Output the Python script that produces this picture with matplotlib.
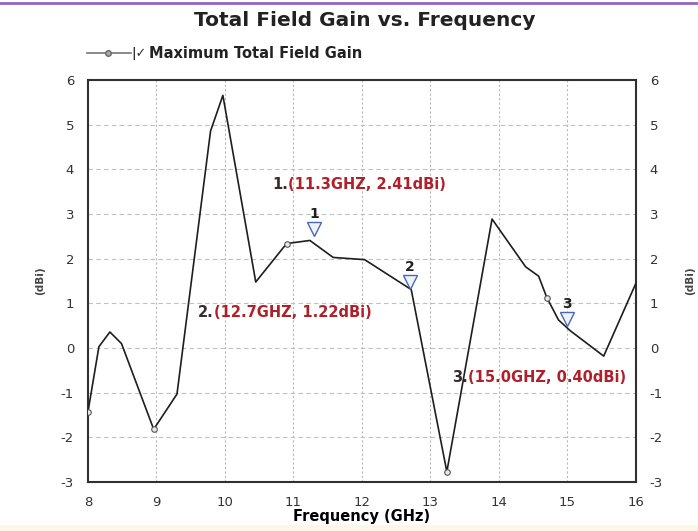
import numpy as np
import matplotlib.pyplot as plt
from matplotlib.lines import Line2D
from matplotlib.patches import Rectangle
from matplotlib.transforms import ScaledTranslation

plt.rcParams['axes.unicode_minus'] = False

# frequency sweep (GHz) and maximum total field gain (dBi)
freq = [8.0, 8.16, 8.32, 8.49, 8.96, 9.30, 9.79, 9.97, 10.45, 10.9, 11.24,
        11.58, 12.04, 12.72, 13.24, 13.9, 14.39, 14.58, 14.70, 14.87, 15.04,
        15.53, 16.0]
gain = [-1.43, 0.03, 0.36, 0.10, -1.82, -1.03, 4.86, 5.66, 1.48, 2.34, 2.41,
        2.03, 1.98, 1.31, -2.77, 2.89, 1.82, 1.61, 1.13, 0.63, 0.39,
        -0.18, 1.45]
marked = [0, 4, 9, 14, 18]   # points drawn with a small circle

# markers
mk_freq = [11.3, 12.7, 15.0]
mk_gain = [2.41, 1.22, 0.40]
mk_text_pos = [(10.92, 3.67), (9.84, 0.80), (13.55, -0.67)]

xticks = list(range(8, 17))
yticks = list(range(-3, 7))

fig = plt.figure(figsize=(6.98, 5.31), dpi=100)
fig.patch.set_facecolor('white')
ax = fig.add_axes([0.126, 0.0923, 0.785, 0.7567])

ax.plot(freq, gain, color='#1e1e1e', lw=1.2, marker='o', markevery=marked,
        ms=4, mfc='#e8e8e8', mec='#555555', mew=0.8, zorder=3)

lift = ax.transData + ScaledTranslation(0, 8 / 72, fig.dpi_scale_trans)
for i, (f, g) in enumerate(zip(mk_freq, mk_gain)):
    ax.plot(f, g, marker='v', ms=10, mfc='#eef2fb', mec='#4a68b0', mew=1.0,
            ls='none', zorder=4, transform=lift)
    ax.annotate(str(i + 1), xy=(f, g), xytext=(0, 14), textcoords='offset points',
                ha='center', va='bottom', fontsize=10, fontweight='bold',
                color='#202020', zorder=5)
    tx, ty = mk_text_pos[i]
    ax.text(tx, ty, f'{i + 1}.', ha='right', va='center', fontsize=10.5,
            fontweight='bold', color='#3a2a2a', zorder=5)
    ax.text(tx, ty, f'({f:.1f}GHZ, {g:.2f}dBi)', ha='left', va='center',
            fontsize=10.5, fontweight='bold', color='#b0202a', zorder=5)

ax.set_xlim(8, 16)
ax.set_ylim(-3, 6)
ax.set_xticks(xticks)
ax.set_yticks(yticks)
ax.tick_params(length=0, labelsize=9.5, labelcolor='#333333', pad=10)

for x in xticks[1:-1]:
    ax.axvline(x, color='#b8b8b8', lw=0.8, ls=(0, (2, 2)), zorder=1)
for y in yticks[1:-1]:
    ax.axhline(y, color='#c0c0c0', lw=0.8, ls=(0, (4, 3)), zorder=1)

for s in ax.spines.values():
    s.set_color('#303030')
    s.set_linewidth(1.5)

ax.set_xlabel('Frequency (GHz)', fontsize=10.5, fontweight='bold', labelpad=0)
ax.set_ylabel('(dBi)', fontsize=7.5, fontweight='bold', color='#444444', labelpad=11)

ax2 = ax.twinx()
ax2.set_ylim(-3, 6)
ax2.set_yticks(yticks)
ax2.tick_params(length=0, labelsize=9.5, labelcolor='#333333', pad=10)
ax2.set_ylabel('(dBi)', fontsize=7.5, fontweight='bold', color='#444444', labelpad=16)
for s in ax2.spines.values():
    s.set_visible(False)

fig.text(0.523, 0.962, 'Total Field Gain vs. Frequency', ha='center', va='center',
         fontsize=14.5, fontweight='bold', color='#222222')

# legend entry drawn by hand: line, circle, checkbox and text
fig.add_artist(Line2D([0.125, 0.187], [0.900, 0.900], color='#777777', lw=1.2))
fig.add_artist(Line2D([0.155], [0.900], marker='o', ms=4, mfc='#aaaaaa',
                      mec='#666666', color='none'))
fig.text(0.188, 0.900, '|\u2713', ha='left', va='center', fontsize=9,
         fontweight='bold', color='#333333')
fig.text(0.214, 0.900, 'Maximum Total Field Gain', ha='left', va='center',
         fontsize=10.5, fontweight='bold', color='#222222')

# top rule and bottom strip
fig.add_artist(Line2D([0, 1], [0.994, 0.994], color='#9466c4', lw=2))
fig.add_artist(Rectangle((0, 0), 1, 0.012, color='#fbf8e6', lw=0))

fig.savefig('out.png', dpi=100)
